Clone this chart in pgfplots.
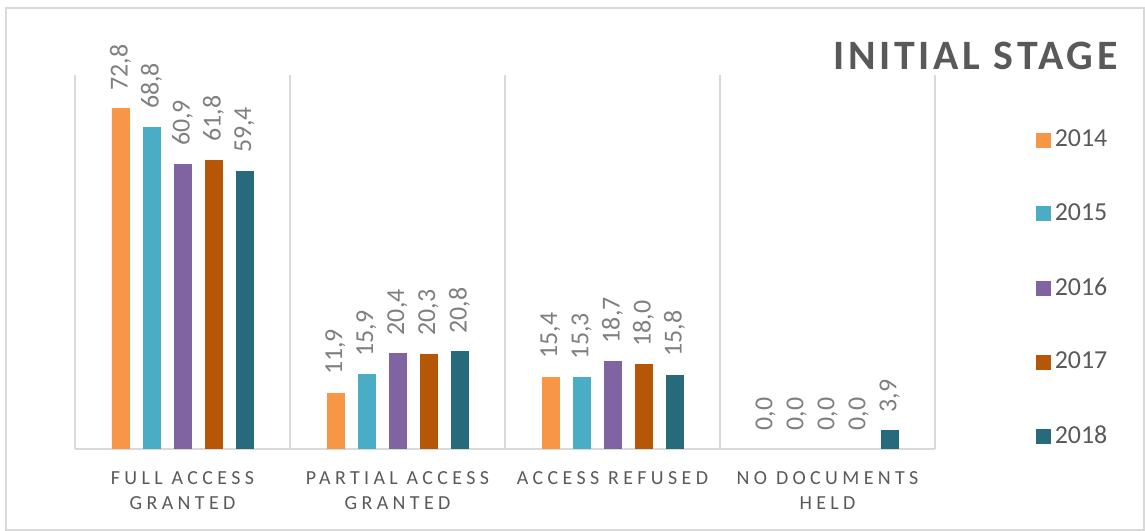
\documentclass[border=0pt]{standalone}
\usepackage{pgfplots}
\pgfplotsset{compat=1.18}
\usepackage{fontspec}
\setmainfont{Carlito}
\newfontfamily\tickfont[LetterSpace=22]{Carlito}
\newfontfamily\titlefont[LetterSpace=9]{Carlito}
\definecolor{c2014}{HTML}{F79646}
\definecolor{c2015}{HTML}{4BACC6}
\definecolor{c2016}{HTML}{8064A2}
\definecolor{c2017}{HTML}{B65708}
\definecolor{c2018}{HTML}{276A7C}
\definecolor{txt}{HTML}{595959}
\definecolor{lbl}{HTML}{7F7F7F}
\definecolor{grd}{HTML}{D9D9D9}
\begin{document}
\begin{tikzpicture}
\useasboundingbox (-37.5bp,-41bp) rectangle (535bp,224.5bp);
\draw[grd, line width=0.75bp] (-34.5bp,-40.5bp) rectangle (534.5bp,220.5bp);
\begin{axis}[
  scale only axis,
  width=430bp, height=187bp,
  ybar=7bp, bar width=8.5bp,
  xmin=-0.5, xmax=3.5, ymin=0, ymax=80,
  axis y line=none,
  axis x line*=bottom,
  x axis line style={grd, line width=0.75bp, -},
  xtick={0,1,2,3},
  xticklabels={{FULL ACCESS\\GRANTED},{PARTIAL ACCESS\\GRANTED},{ACCESS REFUSED},{NO DOCUMENTS\\HELD}},
  xticklabel style={font=\tickfont\fontsize{10}{12.5}\selectfont, text=txt, align=center, yshift=-8bp},
  major tick length=0,
  extra x ticks={-0.5,0.5,1.5,2.5,3.5},
  extra x tick labels={},
  extra x tick style={grid=major, major tick length=0},
  grid style={grd, line width=0.75bp},
  nodes near coords={\pgfmathprintnumber[fixed,fixed zerofill,precision=1,use comma,assume math mode=true]{\pgfplotspointmeta}},
  every node near coord/.append style={rotate=90, anchor=west, inner xsep=9bp, font=\fontsize{13}{15}\selectfont, text=lbl},
  legend style={at={(1.11,0.875)}, anchor=north west, draw=none, fill=none, font=\fontsize{13}{15}\selectfont, text=txt, row sep=23bp, /tikz/every even column/.append style={column sep=3bp}},
  legend cell align=left,
  legend image code/.code={\fill[#1] (0bp,-3.5bp) rectangle (7bp,3.5bp);},
]
\addplot[fill=c2014, draw=c2014] coordinates {(0,72.8) (1,11.9) (2,15.4) (3,0.0)};
\addplot[fill=c2015, draw=c2015] coordinates {(0,68.8) (1,15.9) (2,15.3) (3,0.0)};
\addplot[fill=c2016, draw=c2016] coordinates {(0,60.9) (1,20.4) (2,18.7) (3,0.0)};
\addplot[fill=c2017, draw=c2017] coordinates {(0,61.8) (1,20.3) (2,18.0) (3,0.0)};
\addplot[fill=c2018, draw=c2018] coordinates {(0,59.4) (1,20.8) (2,15.8) (3,3.9)};
\legend{2014,2015,2016,2017,2018}
\end{axis}
\node[anchor=east, inner sep=0pt, text=txt, font=\titlefont\bfseries\fontsize{21}{24}\selectfont] at (521.5bp,196.75bp) {INITIAL STAGE};
\end{tikzpicture}
\end{document}
